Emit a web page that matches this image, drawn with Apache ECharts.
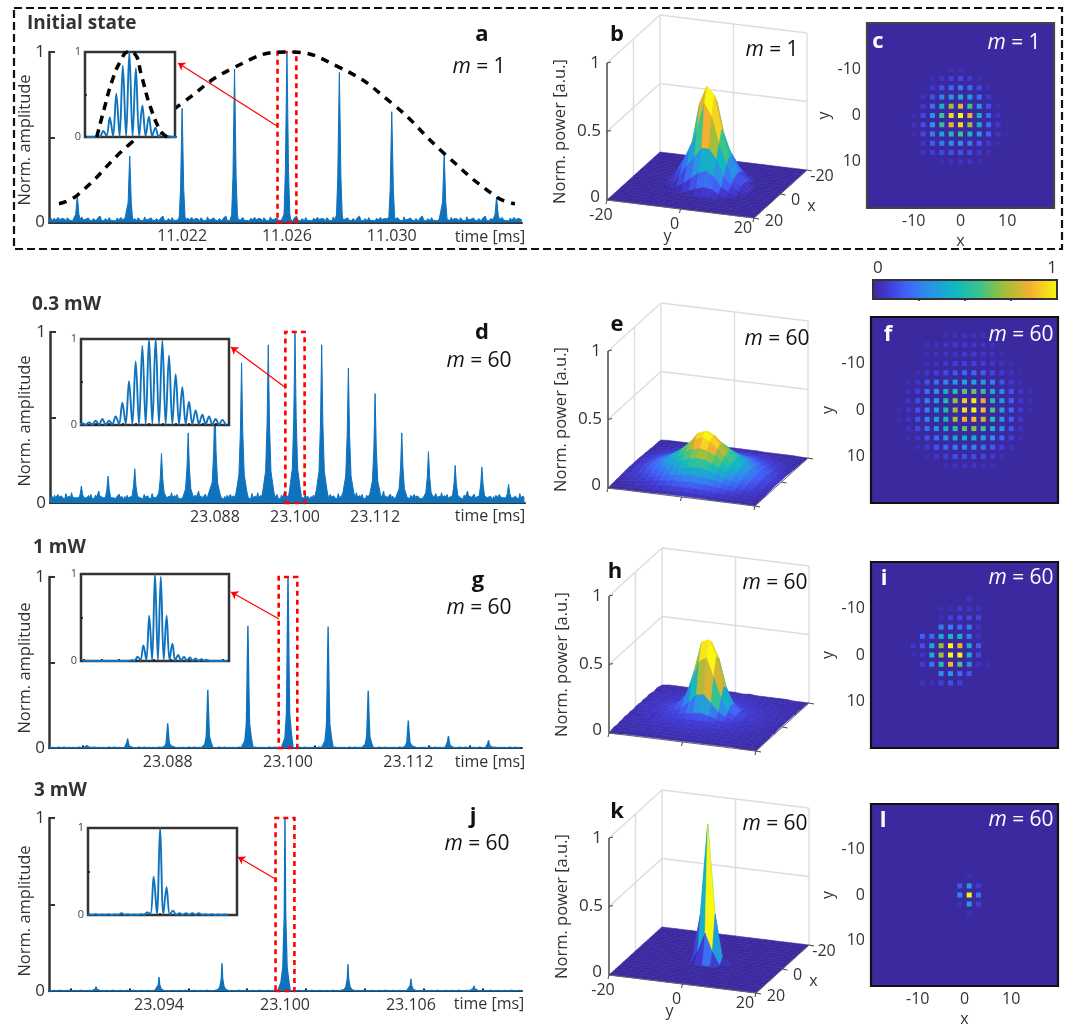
<!DOCTYPE html>
<html><head><meta charset="utf-8">
<script src="https://cdn.jsdelivr.net/npm/echarts@6/dist/echarts.min.js"></script>
<style>html,body{margin:0;padding:0;background:#fff}#c{width:1070px;height:1028px}</style></head>
<body><div id="c"></div>
<script>
// ---------- values ----------
const peakTimesA=[11.018,11.020,11.022,11.024,11.026,11.028,11.030,11.032,11.034];
const peakHeightsA=[.16,.39,.67,.90,1,.88,.65,.40,.15];
const envelopeA=[[11.0173,.11],[11.018,.16],[11.020,.46],[11.022,.70],[11.024,.91],[11.026,1],[11.028,.91],[11.030,.70],[11.032,.405],[11.034,.15],[11.0347,.11]];
const peakTimesD=[23.068,23.072,23.076,23.080,23.084,23.088,23.092,23.096,23.100,23.104,23.108,23.112,23.116,23.120,23.124,23.128,23.132];
const peakHeightsD=[.10,.157,.2,.29,.41,.6,.82,.925,1,.925,.79,.64,.41,.30,.22,.21,.11];
const peakTimesG=[23.080,23.084,23.088,23.092,23.096,23.100,23.104,23.108,23.112,23.116,23.120];
const peakHeightsG=[.025,.055,.145,.34,.715,1,.71,.335,.16,.07,.045];
const peakTimesJ=[23.091,23.094,23.097,23.100,23.103,23.106,23.109];
const peakHeightsJ=[.025,.08,.16,1,.155,.07,.03];
const pulseShapeA=[[-.00014,0],[-.00011,.05],[-.00006,.3],[-.000023,.75],[0,1],[.000023,.75],[.00006,.3],[.00011,.05],[.00014,0]];
const pulseShapeD=[[-.001,0],[-.0008,.08],[-.0004,.2],[-.00018,.5],[0,1],[.00018,.5],[.0004,.2],[.0008,.08],[.001,0]];
const pulseShapeG=[[-.0005,0],[-.0003,.06],[-.00015,.2],[-.00008,.55],[0,1],[.00008,.55],[.00016,.2],[.00034,.08],[.0005,0]];
const pulseShapeJ=[[-.00025,0],[-.00019,.05],[-.0001,.14],[-.00003,.45],[0,1],[.00003,.45],[.0001,.14],[.00019,.05],[.00025,0]];
const noiseA=[.018,.012,.022,.009,.026,.014,.01,.03,.016,.011,.024,.013,.02,.008,.028,.017,.012,.021,.01,.033,.015,.012,.019,.009,.027,.013,.018,.011,.023,.016,.009,.025,.014,.038,.012,.02,.01,.022,.015,.011,.029,.013];
const noiseD=[.03,.022,.038,.026,.045,.03,.024,.05,.034,.028,.042,.03,.036,.024,.055,.032,.026,.04,.028,.06,.034,.026,.044,.03,.05,.028,.036,.024,.046,.034,.028,.07,.03,.042,.026,.038,.03,.052,.028,.04];
const noiseG=[.003,.002,.004,.002,.003,.005,.002,.003,.004,.002];
const noiseJ=[.002,.001,.003,.002,.001,.004,.002,.001,.002,.003];
const tickTimesA=[11.022,11.026,11.030];
const tickTimesD=[23.088,23.100,23.112];
const tickTimesG=[23.088,23.100,23.112];
const tickTimesJ=[23.094,23.100,23.106];
const minorTicksD=[23.072,23.080,23.084,23.088,23.092,23.096,23.100,23.104,23.108,23.112,23.116];
const minorTicksG=[23.0795,23.1027,23.1083,23.114,23.1181];
const minorTicksJ=[23.0898,23.0926,23.0954,23.0982,23.101,23.1038,23.1066,23.1094];
const insetA=[0,.005,.07,.23,.51,.84,1,.81,.37,.24,.11,.05,.01,0];
const insetD=[.02,.03,.05,.07,.05,.1,.26,.51,.74,.92,1,1,.98,.81,.59,.44,.27,.17,.12,.1,.07,.06];
const insetG=[0,0,0,0,0,0,0,0,.01,.05,.18,.52,1,.97,.52,.2,.07,.05,.04,.03,.02,.01,0,0,0];
const insetJ=[.005,.01,.005,.01,.005,.02,.01,.005,.01,.03,.44,1,.32,.05,.02,.02,.02,.02,.01,.01,.005,.005];
const insetEnvelopeA=[[1.8,0],[2.9,.32],[4.2,.67],[5.5,.9],[6.6,1],[7.6,.98],[8.7,.71],[10,.36],[11.6,.07],[12.6,0]];
const heatC=[[0,0,0,0,.03,.03,0,0,0,0,0],[0,0,.03,.06,.1,.12,.08,.03,0,0,0],[0,0,.08,.15,.2,.25,.2,.12,.03,0,0],[0,.05,.14,.27,.35,.42,.35,.22,.08,0,0],[0,.08,.22,.45,.72,.82,.58,.32,.14,.03,0],[.03,.12,.3,.57,.92,1,.85,.42,.2,.06,0],[.05,.13,.32,.55,.83,.92,.72,.42,.22,.08,.02],[.03,.12,.25,.37,.5,.58,.45,.32,.18,.07,.02],[0,.07,.17,.25,.3,.3,.25,.17,.08,.03,0],[0,.05,.09,.12,.14,.14,.12,.08,.04,0,0],[0,0,0,.03,.05,.06,.06,.03,0,0,0]];
const heatF=[[0,0,0,0,0,.03,.04,.05,.05,.04,0,0,0,0,0],[0,0,0,.04,.05,.07,.08,.08,.07,.07,.05,0,0,0,0],[0,0,0,.03,.05,.06,.07,.08,.08,.07,.06,.02,0,0,0],[0,0,0,.03,.05,.07,.09,.1,.1,.09,.07,.05,.03,0,0],[0,0,.03,.07,.1,.13,.16,.2,.2,.17,.12,.08,.05,.02,0],[0,.03,.06,.14,.22,.27,.35,.38,.37,.34,.25,.15,.08,.03,0],[0,.05,.1,.22,.32,.42,.52,.62,.65,.55,.4,.28,.15,.07,.03],[0,.06,.13,.27,.37,.5,.7,.9,.98,.82,.5,.33,.18,.08,.03],[.03,.07,.15,.27,.38,.5,.72,.95,1,.88,.6,.37,.2,.08,.03],[.03,.06,.15,.27,.38,.47,.72,.85,.88,.78,.52,.35,.18,.08,0],[0,.05,.12,.22,.32,.43,.52,.62,.68,.58,.43,.3,.15,.05,0],[0,.03,.07,.14,.22,.33,.38,.42,.42,.37,.3,.2,.1,.04,0],[0,0,.03,.08,.15,.2,.25,.27,.27,.23,.17,.1,.05,0,0],[0,0,0,.03,.07,.1,.13,.14,.13,.12,.08,.03,0,0,0],[0,0,0,0,0,.04,.05,.06,.06,.05,.03,0,0,0,0]];
const heatI=[[0,0,0,0,0,0,.06,0,0],[0,0,0,.03,.03,.08,.06,.04,0],[0,0,0,.03,.1,.12,.12,.12,0],[0,0,0,.25,.25,.2,.25,.05,0],[0,.18,.2,.42,.47,.45,.25,.05,0],[.07,.14,.4,.7,1,.85,.42,.17,0],[.03,.06,.42,.72,1,1,.42,.12,0],[0,.1,.25,.52,.85,.6,.27,.05,.03],[0,0,0,.3,.32,.2,.15,0,0],[0,.05,.04,.1,.14,.1,0,0,0]];
const heatL=[[0,.03,0],[.15,.33,.08],[.27,1,.22],[.04,.35,.09],[0,.04,0]];
const surfaceE=[
[0,1,1,1,2,2,3,3,4,4,4,4,4,4,3,3,2,2,1,1,0],
[1,1,1,2,3,3,4,5,6,6,7,7,7,6,5,5,4,3,2,1,0],
[1,1,2,3,4,5,6,8,9,10,11,11,11,10,9,8,6,4,3,2,1],
[1,2,3,4,5,7,9,11,13,15,16,17,16,15,13,11,8,6,4,2,1],
[1,2,3,5,7,9,12,15,18,21,23,24,23,21,18,15,11,8,5,3,1],
[1,2,4,6,9,12,16,20,25,29,32,33,32,29,25,20,15,10,6,3,1],
[1,3,5,7,11,15,20,26,33,38,42,44,42,38,32,25,18,12,7,4,1],
[2,3,6,9,13,18,25,32,41,49,55,57,54,48,40,31,22,14,9,4,2],
[2,3,6,10,15,21,28,38,50,62,70,73,68,60,47,36,25,16,10,5,2],
[2,4,7,11,16,22,31,42,56,72,88,94,85,68,53,39,27,17,10,5,2],
[2,4,7,11,16,23,32,44,58,76,94,100,92,72,55,40,28,18,11,5,2],
[2,4,7,11,16,22,31,43,56,72,86,92,84,68,53,39,27,17,10,5,2],
[2,3,6,10,15,21,28,38,50,62,70,74,68,60,47,36,25,16,10,5,2],
[2,3,6,9,13,18,25,32,42,50,56,58,55,48,40,31,22,14,9,4,2],
[1,3,5,8,12,16,21,27,34,39,44,45,43,38,32,25,18,12,7,4,1],
[1,3,5,7,10,13,17,22,26,30,33,34,32,29,25,20,15,10,6,3,1],
[1,2,4,6,8,10,13,16,19,22,24,25,24,21,18,15,11,8,5,3,1],
[1,2,3,4,6,8,10,12,14,16,17,18,17,15,13,11,8,6,4,2,1],
[1,1,2,3,4,6,7,8,10,11,11,12,11,10,9,8,6,4,3,2,1],
[0,1,1,2,3,3,4,5,6,7,7,7,7,6,5,5,4,3,2,1,0],
[0,0,1,1,2,2,3,3,4,4,4,4,4,4,3,3,2,2,1,1,0]];
const surfaceH=[
[0,1,2,1,2,3,2,3,2,3,3,2,3,2,3,2,2,1,2,1,0],
[1,2,3,2,4,3,4,3,5,4,4,5,3,4,3,4,2,3,2,1,0],
[1,3,2,4,3,5,4,6,5,6,5,6,4,5,4,3,4,2,3,2,1],
[1,2,4,3,5,4,6,5,6,6,7,6,6,5,5,4,3,4,2,2,1],
[1,3,3,5,4,6,6,7,7,8,8,8,7,6,5,5,4,3,3,2,1],
[1,2,4,4,6,6,7,8,9,10,11,10,9,8,7,6,4,4,2,2,1],
[2,3,4,5,6,7,8,10,12,14,16,14,12,10,8,6,5,3,3,2,1],
[2,3,5,5,6,7,9,12,18,26,28,24,16,11,8,7,5,4,3,2,1],
[1,3,4,6,6,8,10,16,34,54,58,46,24,13,9,7,5,4,3,2,1],
[2,3,5,6,7,8,11,20,56,90,96,74,34,14,9,7,6,4,3,2,1],
[2,3,5,6,7,8,12,22,58,94,100,80,36,15,9,8,5,4,3,2,1],
[1,3,4,6,6,8,10,18,42,74,80,56,26,13,9,7,5,4,3,2,1],
[2,3,5,5,6,7,9,13,24,38,42,30,16,10,8,6,5,3,3,2,1],
[1,3,4,5,6,6,8,9,13,18,20,15,11,8,7,6,4,4,2,2,1],
[1,2,4,4,5,6,6,7,9,10,11,10,8,7,6,5,4,3,3,2,1],
[1,3,3,4,4,5,6,6,7,7,8,7,6,6,5,5,3,4,2,2,1],
[1,2,3,3,5,4,5,5,6,6,6,6,5,5,4,4,3,3,2,1,1],
[1,2,3,2,3,4,4,5,4,5,4,5,4,4,3,3,3,2,2,1,1],
[0,2,2,3,3,3,4,3,4,4,3,4,3,3,3,2,3,2,2,1,0],
[0,1,2,2,2,3,2,3,3,3,2,3,2,2,2,2,2,1,1,1,0],
[0,1,1,1,2,1,2,2,2,2,2,2,2,1,2,1,1,1,1,0,0]];
const surfacePeaks=[.72,.32,.57,1];
const zTicks=[0,.5,1];
const floorTicks=[-20,0,20];
const heatTicks=[-10,0,10];
const colorStops=[[0,'#3b29a0'],[.08,'#4038d0'],[.18,'#4060f8'],[.3,'#2a90e8'],[.45,'#10b8c0'],[.58,'#3cc48a'],[.7,'#98bf3c'],[.85,'#f5b030'],[1,'#f8f810']];
const barTicks=[.25,.5,.75];

// ---------- helpers ----------
const FONT='"Open Sans","Noto Sans",sans-serif', BLUE='#0f72bd', INK='#333';
function hex(c){return [1,3,5].map(i=>parseInt(c.slice(i,i+2),16));}
function color(v){v=Math.max(0,Math.min(1,v));
  for(let i=1;i<colorStops.length;i++){if(v<=colorStops[i][0]){
    const a=colorStops[i-1],b=colorStops[i],f=(v-a[0])/(b[0]-a[0]),A=hex(a[1]),B=hex(b[1]);
    return 'rgb('+A.map((x,k)=>Math.round(x+(B[k]-x)*f)).join(',')+')';}}
  return colorStops[colorStops.length-1][1];}
function trace(times,heights,shape,noise,tMin,tMax,step){
  const pts=[],w=shape[shape.length-1][0];let n=0;
  for(let t=tMin;t<=tMax;t+=step){
    if(times.some(p=>Math.abs(t-p)<w))continue;
    pts.push([t,noise[n++%noise.length]]);}
  times.forEach((p,i)=>shape.forEach(s=>pts.push([p+s[0],Math.max(heights[i]*s[1],noise[0]*(s[1]===1?0:1))])));
  return pts.sort((a,b)=>a[0]-b[0]);}
function insetTrace(vals,off){const out=[];vals.forEach((h,i)=>{
  out.push([i+off-.5,Math.min(.012,h*.1)]);out.push([i+off,h]);});
  out.push([vals.length+off-.5,0]);return out;}

const grid=[],xAxis=[],yAxis=[],series=[],graphic=[];
function addGrid(g,x,y){grid.push(g);xAxis.push(Object.assign({gridIndex:grid.length-1},x));yAxis.push(Object.assign({gridIndex:grid.length-1},y));return grid.length-1;}
function txt(s,x,y,font,fill,rot){const e={type:'text',x,y,z:50,silent:true,style:{text:s,font,fill:fill||INK,align:'center',verticalAlign:'middle'}};if(rot)e.rotation=rot;graphic.push(e);}
function mLabel(n,x,y,fill){graphic.push({type:'text',x,y,z:50,silent:true,style:{text:'{i|m} = '+n,fill:fill,font:'21px '+FONT,align:'center',verticalAlign:'middle',rich:{i:{fontStyle:'italic',fontSize:21,fontFamily:'"Open Sans"',fill:fill}}}});}

function timePanel(p){
  const i=addGrid({left:p.l,width:p.r-p.l,top:p.t,height:p.b-p.t,z:1},
   {type:'value',min:p.tMin,max:p.tMax,splitLine:{show:false},axisLine:{lineStyle:{color:INK,width:2},onZero:false},
    axisTick:{customValues:p.minor||p.ticks,inside:true,length:2.5,lineStyle:{color:'#111',width:2}},
    axisLabel:{customValues:p.ticks,formatter:v=>v.toFixed(3),color:INK,fontSize:16,fontFamily:FONT,margin:6}},
   {type:'value',min:0,max:1,splitLine:{show:false},
    axisLine:{show:true,lineStyle:{color:INK,width:2.5}},axisTick:{show:true,customValues:zTicks,inside:true,length:6,lineStyle:{color:INK,width:2}},
    axisLabel:{customValues:[0,1],color:INK,fontSize:17,fontFamily:FONT,margin:4}});
  txt('Norm. amplitude',25,p.nameY,'16.5px '+FONT,INK,Math.PI/2);
  const c=p.times[Math.floor(p.times.length/2)];
  series.push({type:'line',xAxisIndex:i,yAxisIndex:i,data:trace(p.times,p.heights,p.shape,p.noise,p.tMin,p.tMax,p.step),showSymbol:false,
    lineStyle:{color:BLUE,width:p.lw},areaStyle:{color:BLUE,opacity:1},clip:false,z:2,silent:true,
    markArea:{silent:true,z:3,itemStyle:{color:'rgba(0,0,0,0)',borderColor:'#f00',borderWidth:2.6,borderType:[5,4]},label:{show:false},
      data:[[{coord:[c-p.box,-.005]},{coord:[c+p.box,p.boxTop]}]]},
    markLine:{silent:true,z:3,symbol:['none','arrow'],symbolSize:7,label:{show:false},lineStyle:{color:'#f00',width:1.2,type:'solid'},data:[[{x:p.arrow[0],y:p.arrow[1]},{x:p.arrow[2],y:p.arrow[3]}]]}});
  const b=p.inset;
  const j=addGrid({left:b.l,width:b.r-b.l,top:b.t,height:b.b-b.t,show:true,backgroundColor:'#fff',borderColor:'#333',borderWidth:2.5,z:6},
   {type:'value',min:0,max:b.span,z:7,splitLine:{show:false},axisLine:{show:false},axisLabel:{show:false},axisTick:{show:true,customValues:b.ticks,inside:true,length:2,lineStyle:{color:'#111',width:1.5}}},
   {type:'value',min:0,max:1,z:7,splitLine:{show:false},axisLine:{show:false},axisTick:{show:true,customValues:[.5],inside:true,length:2,lineStyle:{color:'#111',width:1.5}},
    axisLabel:{customValues:[0,1],color:'#444',fontSize:11,fontFamily:FONT,margin:4}});
  series.push({type:'line',xAxisIndex:j,yAxisIndex:j,data:insetTrace(b.vals,b.off),showSymbol:false,smooth:.35,lineStyle:{color:BLUE,width:1.9},z:8,silent:true,clip:true});
  if(p.env){
    series.push({type:'line',xAxisIndex:i,yAxisIndex:i,data:p.env,showSymbol:false,smooth:true,lineStyle:{color:'#000',width:3.5,type:[8,7]},z:4,silent:true,clip:false});
    series.push({type:'line',xAxisIndex:j,yAxisIndex:j,data:b.env,showSymbol:false,smooth:true,lineStyle:{color:'#000',width:3.5,type:[8,6]},z:9,silent:true,clip:false});
  }
}
function lattice(m,x0,y0){const d=[];m.forEach((r,ri)=>r.forEach((v,ci)=>{if(v>0)d.push([x0+2*ci,y0+2*ri,v]);}));return d;}
function heatPanel(p){
  const i=addGrid({left:p.l,width:p.r-p.l,top:p.t,height:p.b-p.t,show:true,backgroundColor:'#3b29a0',borderColor:p.border,borderWidth:2.2,z:1},
   {type:'value',min:-20,max:20,splitLine:{show:false},axisLine:{show:false},name:p.xName?'x':'',nameLocation:'middle',nameGap:25,nameTextStyle:{fontSize:16,color:INK,fontFamily:FONT},
    axisTick:{show:true,customValues:heatTicks,inside:true,length:3,lineStyle:{color:'#111',width:1.5}},
    axisLabel:{show:!!p.xName,customValues:heatTicks,color:INK,fontSize:16,fontFamily:FONT,margin:5}},
   {type:'value',min:-20,max:20,inverse:true,splitLine:{show:false},axisLine:{show:false},name:'y',nameLocation:'middle',nameGap:35,nameRotate:90,nameTextStyle:{fontSize:16,color:INK,fontFamily:FONT},
    axisTick:{show:true,customValues:heatTicks,inside:true,length:3,lineStyle:{color:'#111',width:1.5}},
    axisLabel:{customValues:heatTicks,color:INK,fontSize:16,fontFamily:FONT,margin:6}});
  series.push({type:'scatter',xAxisIndex:i,yAxisIndex:i,data:lattice(p.m,p.x0,p.y0),symbol:'rect',symbolSize:5,silent:true,z:3,
    itemStyle:{color:q=>color(q.value[2]),opacity:1}});
}
// Oblique projection of the (x,y,z) box onto a plane whose units are the grid's axes.
const YU=[147,18],XU=[53,48],ZU=137;
function proj(x,y,z){const a=(y+20)/40,b=(20-x)/40;return [a*YU[0]+b*XU[0],z*ZU+b*XU[1]-a*YU[1]];}
function surfacePanel(p){
  const i=addGrid({left:p.ox,top:p.oy-ZU-XU[1],width:YU[0]+XU[0],height:ZU+XU[1]+YU[1],z:1},
    {type:'value',min:0,max:YU[0]+XU[0],show:false},{type:'value',min:-YU[1],max:ZU+XU[1],show:false});
  const lat=v=>{const o=((v%2)+2)%2,a=[];if(o)a.push(-20);for(let k=-20+o;k<=20;k+=2)a.push(k);if(o)a.push(20);return a;};
  const xs=lat(p.x0),ys=lat(p.y0);
  const zAt=(x,y)=>{const r=(y-p.y0)/2,c=(x-p.x0)/2;return p.m[r]&&p.m[r][c]!==undefined?p.m[r][c]*(p.unit||1):0;};
  const cells=[];
  xs.slice(0,-1).forEach((x,a)=>ys.slice(0,-1).forEach((y,b)=>{const x2=xs[a+1],y2=ys[b+1];
    cells.push([x,y,x2,y2,zAt(x,y),zAt(x,y2),zAt(x2,y2),zAt(x2,y)]);}));
  const pk=p.peak;
  series.push({type:'custom',xAxisIndex:i,yAxisIndex:i,data:[[0]],silent:true,z:2,clip:false,renderItem:(ps,api)=>{
    const L=(a,b,c,d,e,f,st,w)=>{const u=api.coord(proj(a,b,c)),v=api.coord(proj(d,e,f));return {type:'line',shape:{x1:u[0],y1:u[1],x2:v[0],y2:v[1]},style:{stroke:st,lineWidth:w}};};
    const G='#dddddd',ch=[];
    [.5,1].forEach(z=>{ch.push(L(20,-20,z,-20,-20,z,G,1.4));ch.push(L(-20,-20,z,-20,20,z,G,1.4));});
    ch.push(L(-20,-20,0,-20,-20,1,G,1.4),L(-20,20,0,-20,20,1,G,1.4),L(0,-20,0,0,-20,1,G,1.4),L(-20,0,0,-20,0,1,G,1.4));
    return {type:'group',children:ch};}});
  series.push({type:'custom',xAxisIndex:i,yAxisIndex:i,data:cells,silent:true,z:3,clip:false,renderItem:(ps,api)=>{
    const x=api.value(0),y=api.value(1),x2=api.value(2),y2=api.value(3),z=[api.value(4),api.value(5),api.value(6),api.value(7)];
    const pts=[proj(x,y,z[0]*pk),proj(x,y2,z[1]*pk),proj(x2,y2,z[2]*pk),proj(x2,y,z[3]*pk)].map(q=>api.coord(q));
    const col=color(Math.max(z[0],(z[0]+z[1]+z[2]+z[3])/4));
    return {type:'polygon',shape:{points:pts},style:{fill:col,stroke:col,lineWidth:.6}};}});
  series.push({type:'custom',xAxisIndex:i,yAxisIndex:i,data:[[0]],silent:true,z:4,clip:false,renderItem:(ps,api)=>{
    const ch=[];const P=(x,y,z)=>api.coord(proj(x,y,z));
    const seg=(u,v,st,w)=>ch.push({type:'line',shape:{x1:u[0],y1:u[1],x2:v[0],y2:v[1]},style:{stroke:st,lineWidth:w}});
    const T=(s,q,dx,dy,size)=>ch.push({type:'text',style:{text:s,x:q[0]+dx,y:q[1]+dy,fill:INK,font:(size||16)+'px '+FONT,align:'center',verticalAlign:'middle'}});
    seg(P(20,-20,0),P(20,-20,1),'#555',1.6);
    seg(P(20,-20,0),P(20,20,0),'#666',1);seg(P(20,20,0),P(-20,20,0),'#666',1);
    zTicks.forEach(z=>{const q=P(20,-20,z);seg(q,[q[0]+4,q[1]-1],'#444',1);T(String(z),q,z===.5?-18:-12,z===0?-3:0,17);});
    floorTicks.forEach(v=>{const a=P(20,v,0),b=P(v,20,0);seg(a,[a[0]-1,a[1]+4],'#444',1);seg(b,[b[0]+5,b[1]+1],'#444',1);
      if(p.labels){T(String(v),a,v===20?-11:-6,v===20?10:15);T(String(v),b,v===20?20:15,v===20?3:6);}});
    if(p.labels){T('y',P(20,0,0),-13,27);T('x',P(0,20,0),31,12);}
    const q=P(20,-20,.5);ch.push({type:'text',rotation:Math.PI/2,x:q[0]-47,y:q[1],style:{text:'Norm. power [a.u.]',fill:INK,font:'16.5px '+FONT,align:'center',verticalAlign:'middle'}});
    return {type:'group',children:ch};}});
}

// ---------- panels ----------
timePanel({l:49,r:522,t:52,b:222.5,nameY:140,tMin:11.01692,tMax:11.03497,times:peakTimesA,heights:peakHeightsA,shape:pulseShapeA,noise:noiseA,step:.00005,lw:1,
  ticks:tickTimesA,box:.00036,boxTop:1,arrow:[277,126,178,63],env:envelopeA,
  inset:{l:85,r:175,t:52,b:137,span:13.8,off:.8,vals:insetA,env:insetEnvelopeA,ticks:[]}});
timePanel({l:50,r:525,t:332,b:503,nameY:421,tMin:23.0633,tMax:23.13446,times:peakTimesD,heights:peakHeightsD,shape:pulseShapeD,noise:noiseD,step:.00017,lw:1,
  ticks:tickTimesD,minor:minorTicksD,box:.00144,boxTop:1.02,arrow:[286,388,231,347],
  inset:{l:81,r:229,t:339,b:425,span:22.2,off:.2,vals:insetD,ticks:[2.2,4.2,6.2,8.2,10.2,12.2,14.2,16.2,18.2,20.2]}});
timePanel({l:49,r:522,t:577,b:748,nameY:668,tMin:23.07616,tMax:23.12334,times:peakTimesG,heights:peakHeightsG,shape:pulseShapeG,noise:noiseG,step:.0002,lw:1.4,
  ticks:tickTimesG,minor:minorTicksG,box:.00093,boxTop:1.02,arrow:[279,619,231,592],
  inset:{l:81,r:229,t:574,b:661,span:25.5,off:.75,vals:insetG,ticks:[.5,3.5,6.5,9.5,12.5,15.5,18.5,21.5,24.5]}});
timePanel({l:49,r:522,t:818,b:991,nameY:911,tMin:23.08876,tMax:23.11129,times:peakTimesJ,heights:peakHeightsJ,shape:pulseShapeJ,noise:noiseJ,step:.0001,lw:1.4,
  ticks:tickTimesJ,minor:minorTicksJ,box:.00045,boxTop:1.02,arrow:[277,880,238,857],
  inset:{l:88,r:237,t:828,b:915,span:23.1,off:.18,vals:insetJ,ticks:[11.18]}});

surfacePanel({ox:607,oy:200,m:heatC,x0:-10,y0:-10,peak:surfacePeaks[0],labels:true});
surfacePanel({ox:608,oy:488,m:surfaceE,unit:.01,x0:-20,y0:-20,peak:surfacePeaks[1],labels:false});
surfacePanel({ox:609,oy:733,m:surfaceH,unit:.01,x0:-20,y0:-20,peak:surfacePeaks[2],labels:false});
surfacePanel({ox:609,oy:975,m:heatL,x0:-1,y0:-4,peak:surfacePeaks[3],labels:true});

heatPanel({l:867,r:1054,t:23,b:208,m:heatC,x0:-10,y0:-10,xName:true,border:'#444'});
heatPanel({l:871,r:1058,t:317,b:503,m:heatF,x0:-14,y0:-16,border:'#111'});
heatPanel({l:871,r:1058,t:562,b:748,m:heatI,x0:-11,y0:-12,border:'#111'});
heatPanel({l:871,r:1058,t:804,b:990,m:heatL,x0:-1,y0:-4,xName:true,border:'#111'});

// colour bar
const bar=addGrid({left:873,width:184,top:280,height:19,z:1},
  {type:'value',min:0,max:1,position:'top',z:6,splitLine:{show:false},axisLine:{show:false},axisTick:{show:true,customValues:barTicks,inside:true,length:2,lineStyle:{color:'#222',width:1.5}},
   axisLabel:{customValues:[0,1],alignMinLabel:'left',alignMaxLabel:'right',color:INK,fontSize:17,fontFamily:FONT,margin:3}},
  {type:'value',min:0,max:1,show:false});
series.push({type:'custom',xAxisIndex:bar,yAxisIndex:bar,data:[[0,0,1,1]],silent:true,z:3,renderItem:(ps,api)=>{
  const a=api.coord([0,1]),b=api.coord([1,0]);
  return {type:'rect',shape:{x:a[0],y:a[1],width:b[0]-a[0],height:b[1]-a[1]},style:{stroke:'#333',lineWidth:2,
    fill:new echarts.graphic.LinearGradient(0,0,1,0,colorStops.map(s=>({offset:s[0],color:s[1]})))}};}});

// ---------- text and frame ----------
graphic.push({type:'rect',z:40,silent:true,shape:{x:14,y:8,width:1048,height:241},style:{fill:'none',stroke:'#111',lineWidth:2.2,lineDash:[8,4]}});
const B='bold 19px '+FONT, BL='bold 22px '+FONT;
[['Initial state',27,24],['0.3 mW',32,305],['1 mW',33,548],['3 mW',34,791]].forEach(t=>graphic.push({type:'text',x:t[1],y:t[2],z:50,silent:true,style:{text:t[0],font:B,fill:INK,align:'left',verticalAlign:'middle'}}));
[['a',482,35],['d',482,333],['g',478,581],['j',473,817],['b',617,35],['e',617,325],['h',615,572],['k',617,812]].forEach(t=>txt(t[0],t[1],t[2],BL,'#111'));
[['c',878,42],['f',888,335],['i',884,579],['l',883,821]].forEach(t=>txt(t[0],t[1],t[2],BL,'#fff'));
[[1,479,67],[60,479,361],[60,479,608],[60,477,844],[1,772,50],[60,777,339],[60,775,583],[60,775,824]].forEach(t=>mLabel(t[0],t[1],t[2],'#111'));
[[1,1014,43],[60,1021,335],[60,1021,578],[60,1021,820]].forEach(t=>mLabel(t[0],t[1],t[2],'#fff'));
[[490,237],[490,516],[490,762],[489,1004]].forEach(t=>txt('time [ms]',t[0],t[1],'16px '+FONT,INK));

const chart=echarts.init(document.getElementById('c'),null,{renderer:'canvas'});
chart.setOption({animation:false,backgroundColor:'#fff',grid,xAxis,yAxis,series,graphic:{elements:graphic}});
</script></body></html>
